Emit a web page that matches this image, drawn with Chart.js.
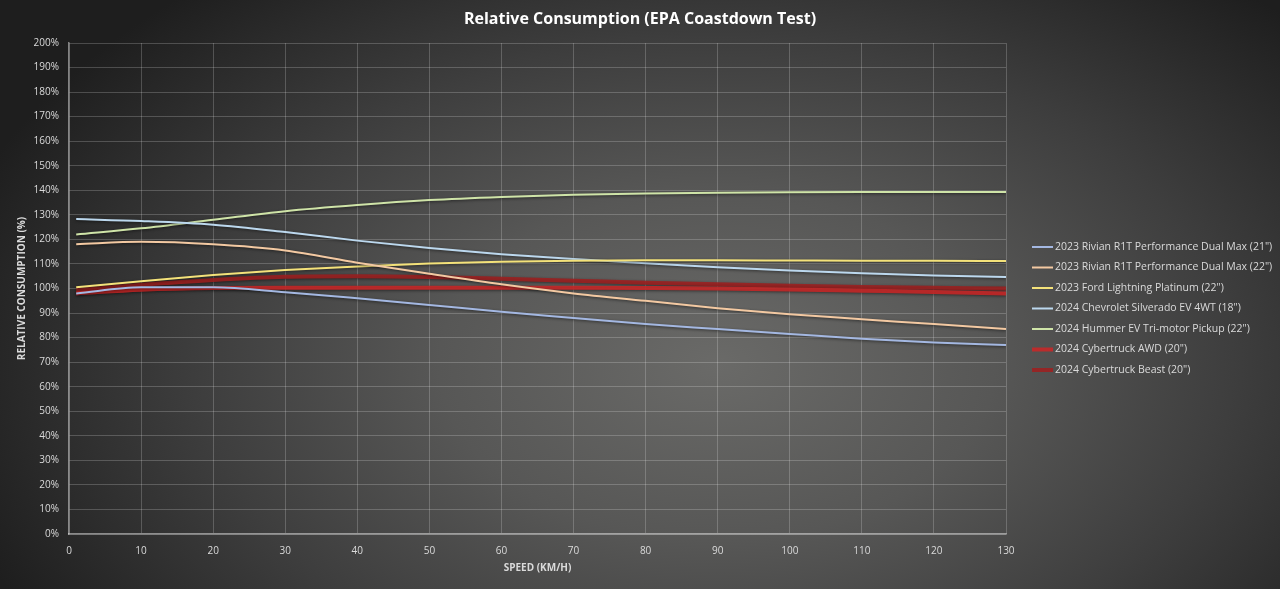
<!DOCTYPE html>
<html>
<head>
<meta charset="utf-8">
<script src="https://cdn.jsdelivr.net/npm/chart.js@4"></script>
<style>
  html, body { margin: 0; padding: 0; }
  body {
    width: 1280px; height: 589px; overflow: hidden;
    background: radial-gradient(ellipse 62% 85% at 56% 62%, #6a6a68 0%, #575756 35%, #3e3e3e 65%, #1e1e1e 100%);
  }
  #wrap { position: absolute; left: 0; top: 0; width: 1280px; height: 589px; }
</style>
</head>
<body>
<div id="wrap"><canvas id="c" width="1280" height="589"></canvas></div>
<script>
const speeds = [1, 10, 20, 30, 40, 50, 60, 70, 80, 90, 100, 110, 120, 130];

const rivian21 = [98, 100.5, 100.5, 98.5, 96, 93.3, 90.5, 88, 85.5, 83.5, 81.5, 79.5, 78, 77];
const rivian22 = [118, 119, 118, 115.5, 110.5, 106, 101.7, 98, 95, 92, 89.5, 87.5, 85.5, 83.5];
const fordLightning = [100.5, 103, 105.5, 107.5, 109, 110.2, 110.9, 111.3, 111.5, 111.5, 111.4, 111.3, 111.3, 111.2];
const silverado = [128.3, 127.5, 126, 123, 119.5, 116.5, 114, 112, 110.3, 108.7, 107.3, 106.2, 105.3, 104.7];
const hummer = [122, 124.5, 128, 131.5, 134, 136, 137.3, 138.2, 138.7, 139, 139.2, 139.3, 139.3, 139.3];
const cyberAWD = [98, 99.5, 100.2, 100.3, 100.3, 100.3, 100.3, 100.3, 100.2, 100, 99.6, 99.1, 98.6, 98];
const cyberBeast = [99.3, 101.5, 103.5, 104.8, 105, 104.7, 104, 103.2, 102.3, 101.7, 101.1, 100.6, 100.3, 100];

const seriesNames = [
  '2023 Rivian R1T Performance Dual Max (21")',
  '2023 Rivian R1T Performance Dual Max (22")',
  '2023 Ford Lightning Platinum (22")',
  '2024 Chevrolet Silverado EV 4WT (18")',
  '2024 Hummer EV Tri-motor Pickup (22")',
  '2024 Cybertruck AWD (20")',
  '2024 Cybertruck Beast (20")'
];
const seriesValues = [rivian21, rivian22, fordLightning, silverado, hummer, cyberAWD, cyberBeast];
const seriesColors = ['#a4b8e2', '#f3c9a2', '#f4e27a', '#bcd8ee', '#cfe4a8', 'rgba(205,38,38,0.85)', 'rgba(160,30,30,0.85)'];
const seriesWidths = [2, 2, 2, 2, 2, 4, 4];

const xTicks = [0, 10, 20, 30, 40, 50, 60, 70, 80, 90, 100, 110, 120, 130];
const yMax = 200, yStep = 10;

const FONT = "'Open Sans', 'Liberation Sans', sans-serif";
const TEXT = '#dadada';

const datasets = seriesNames.map((name, i) => ({
  label: name,
  data: speeds.map((s, j) => ({ x: s, y: seriesValues[i][j] })),
  borderColor: seriesColors[i],
  backgroundColor: seriesColors[i],
  borderWidth: seriesWidths[i],
  pointRadius: 0,
  fill: false,
  cubicInterpolationMode: 'monotone'
}));

const shadowPlugin = {
  id: 'shadow',
  beforeDatasetsDraw(chart) {
    const ctx = chart.ctx;
    ctx.save();
    ctx.shadowColor = 'rgba(0,0,0,0.55)';
    ctx.shadowBlur = 3;
    ctx.shadowOffsetY = 1;
  },
  afterDatasetsDraw(chart) { chart.ctx.restore(); }
};

const legendPlugin = {
  id: 'sideLegend',
  afterDraw(chart) {
    const ctx = chart.ctx;
    ctx.save();
    const x0 = 1032, y0 = 247, step = 20.5;
    ctx.font = "10.5px " + FONT;
    ctx.textBaseline = 'middle';
    ctx.textAlign = 'left';
    chart.data.datasets.forEach((ds, i) => {
      const y = y0 + i * step;
      ctx.strokeStyle = ds.borderColor;
      ctx.lineWidth = ds.borderWidth;
      ctx.beginPath();
      ctx.moveTo(x0, y);
      ctx.lineTo(x0 + 21, y);
      ctx.stroke();
      ctx.fillStyle = TEXT;
      ctx.fillText(ds.label, x0 + 23, y);
    });
    ctx.restore();
  }
};

new Chart(document.getElementById('c'), {
  type: 'line',
  data: { datasets },
  options: {
    responsive: false,
    animation: false,
    layout: { padding: 0 },
    plugins: {
      legend: { display: false },
      tooltip: { enabled: false },
      title: {
        display: true,
        text: 'Relative Consumption (EPA Coastdown Test)',
        color: '#ffffff',
        font: { family: FONT, size: 16, weight: 'bold' },
        padding: { top: 10, bottom: 13.8 }
      }
    },
    scales: {
      x: {
        type: 'linear',
        min: 0, max: 130,
        afterBuildTicks(scale) { scale.ticks = xTicks.map(v => ({ value: v })); },
        afterFit(scale) { scale.height = 55; },
        ticks: { color: TEXT, font: { family: FONT, size: 10 }, padding: 11, maxRotation: 0 },
        grid: { color: 'rgba(255,255,255,0.2)', drawTicks: false },
        border: { color: 'rgba(255,255,255,0.45)', width: 1.5 },
        title: {
          display: true, text: 'SPEED (KM/H)', color: TEXT,
          font: { family: FONT, size: 10, weight: 'bold' },
          padding: { top: 0, bottom: 15 }
        }
      },
      y: {
        min: 0, max: yMax,
        afterFit(scale) { scale.width = 69; },
        ticks: { stepSize: yStep, color: TEXT, font: { family: FONT, size: 10 }, padding: 10,
                 callback: v => v + '%' },
        grid: { color: 'rgba(255,255,255,0.2)', drawTicks: false },
        border: { color: 'rgba(255,255,255,0.45)', width: 1.5 },
        title: {
          display: true, text: 'RELATIVE CONSUMPTION (%)', color: TEXT,
          font: { family: FONT, size: 10, weight: 'bold' },
          padding: { top: 16, bottom: 0 }
        }
      },
      legendSpace: {
        type: 'linear',
        position: 'right',
        display: true,
        afterFit(scale) { scale.width = 274; },
        ticks: { display: false },
        grid: { display: false, drawTicks: false },
        border: { display: false }
      }
    }
  },
  plugins: [shadowPlugin, legendPlugin]
});
</script>
</body>
</html>
